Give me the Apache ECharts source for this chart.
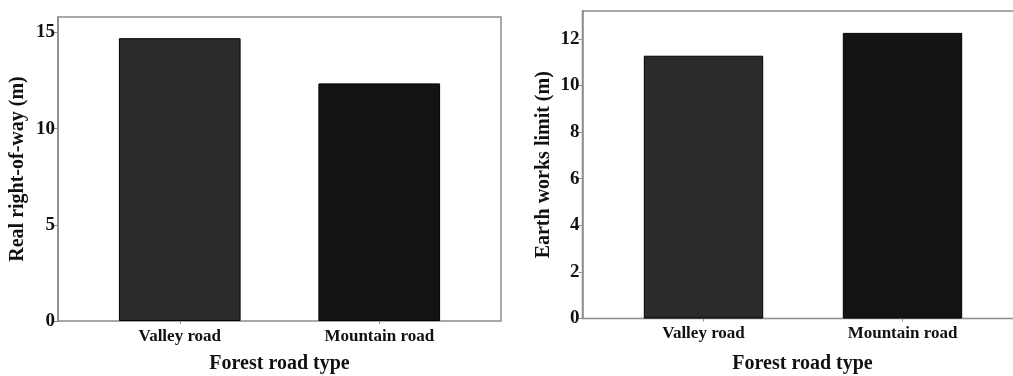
<!DOCTYPE html>
<html>
<head>
<meta charset="utf-8">
<script src="https://cdn.jsdelivr.net/npm/echarts@6/dist/echarts.min.js"></script>
<style>
html,body{margin:0;padding:0;background:#fff;}
#chart{width:1013px;height:376px;}
</style>
</head>
<body>
<div id="chart"></div>
<script>
const categories = ['Valley road', 'Mountain road'];
const rightOfWay = [14.7, 12.35];
const earthWorks = [11.28, 12.26];
const barColors = ['#2b2b2b', '#131313'];
const xTitle = 'Forest road type';
const yTitleLeft = 'Real right-of-way (m)';
const yTitleRight = 'Earth works limit (m)';

const FONT = '"Liberation Serif", "Times New Roman", serif';
const AXIS_GRAY = '#8c8c8c';

function frameGrid(left, top, width, height) {
  return { left: left, top: top, width: width, height: height, show: true, borderColor: AXIS_GRAY, borderWidth: 1.5,
    backgroundColor: 'transparent', containLabel: false, outerBoundsMode: 'none' };
}
function barGrid(left, top, width, height) {
  return { left: left, top: top, width: width, height: height, show: false, containLabel: false, outerBoundsMode: 'none' };
}

const option = {
  animation: false,
  backgroundColor: '#fff',
  grid: [
    frameGrid(58, 17, 443, 304),
    barGrid(80, 17, 399, 304),
    frameGrid(582.5, 11, 440, 307.5),
    barGrid(604, 11, 398, 307.5)
  ],
  xAxis: [
    { gridIndex: 0, type: 'value', min: 0, max: 1, show: true,
      axisLine: { show: false }, axisTick: { show: false }, axisLabel: { show: false }, splitLine: { show: false },
      name: xTitle, nameLocation: 'middle', nameGap: 33,
      nameTextStyle: { fontFamily: FONT, fontWeight: 'bold', fontSize: 20, color: '#111' } },
    { gridIndex: 1, type: 'category', data: categories,
      axisLine: { show: false },
      axisTick: { show: true, alignWithLabel: true, length: 3, lineStyle: { color: AXIS_GRAY } },
      axisLabel: { fontFamily: FONT, fontWeight: 'bold', fontSize: 17, color: '#111', margin: 7 } },
    { gridIndex: 2, type: 'value', min: 0, max: 1, show: true,
      axisLine: { show: false }, axisTick: { show: false }, axisLabel: { show: false }, splitLine: { show: false },
      name: xTitle, nameLocation: 'middle', nameGap: 35,
      nameTextStyle: { fontFamily: FONT, fontWeight: 'bold', fontSize: 20, color: '#111' } },
    { gridIndex: 3, type: 'category', data: categories,
      axisLine: { show: false },
      axisTick: { show: true, alignWithLabel: true, length: 3, lineStyle: { color: AXIS_GRAY } },
      axisLabel: { fontFamily: FONT, fontWeight: 'bold', fontSize: 17, color: '#111', margin: 7 } }
  ],
  yAxis: [
    { gridIndex: 0, type: 'value', min: 0, max: 15.8, interval: 5,
      axisLine: { show: true, lineStyle: { color: AXIS_GRAY, width: 1.5 } },
      axisTick: { show: true, length: 4, lineStyle: { color: AXIS_GRAY } },
      axisLabel: { fontFamily: FONT, fontWeight: 'bold', fontSize: 19, color: '#111', margin: 3, showMaxLabel: false,
        formatter: v => (v % 5 === 0 ? String(v) : '') },
      splitLine: { show: false },
      name: yTitleLeft, nameLocation: 'middle', nameGap: 30, nameRotate: 90,
      nameTextStyle: { fontFamily: FONT, fontWeight: 'bold', fontSize: 20, color: '#111' } },
    { gridIndex: 1, type: 'value', min: 0, max: 15.8, show: false },
    { gridIndex: 2, type: 'value', min: 0, max: 13.2, interval: 2,
      axisLine: { show: true, lineStyle: { color: AXIS_GRAY, width: 1.5 } },
      axisTick: { show: true, length: 4, lineStyle: { color: AXIS_GRAY } },
      axisLabel: { fontFamily: FONT, fontWeight: 'bold', fontSize: 19, color: '#111', margin: 3, showMaxLabel: false,
        formatter: v => (v % 2 === 0 ? String(v) : '') },
      splitLine: { show: false },
      name: yTitleRight, nameLocation: 'middle', nameGap: 29, nameRotate: 90,
      nameTextStyle: { fontFamily: FONT, fontWeight: 'bold', fontSize: 20, color: '#111' } },
    { gridIndex: 3, type: 'value', min: 0, max: 13.2, show: false }
  ],
  series: [
    { type: 'bar', xAxisIndex: 1, yAxisIndex: 1, barWidth: '61%',
      data: rightOfWay.map((v, i) => ({ value: v, itemStyle: { color: barColors[i] } })),
      itemStyle: { borderColor: '#000', borderWidth: 1 } },
    { type: 'bar', xAxisIndex: 3, yAxisIndex: 3, barWidth: '60%',
      data: earthWorks.map((v, i) => ({ value: v, itemStyle: { color: barColors[i] } })),
      itemStyle: { borderColor: '#000', borderWidth: 1 } }
  ]
};

const chart = echarts.init(document.getElementById('chart'), null, { renderer: 'canvas' });
chart.setOption(option);
</script>
</body>
</html>
